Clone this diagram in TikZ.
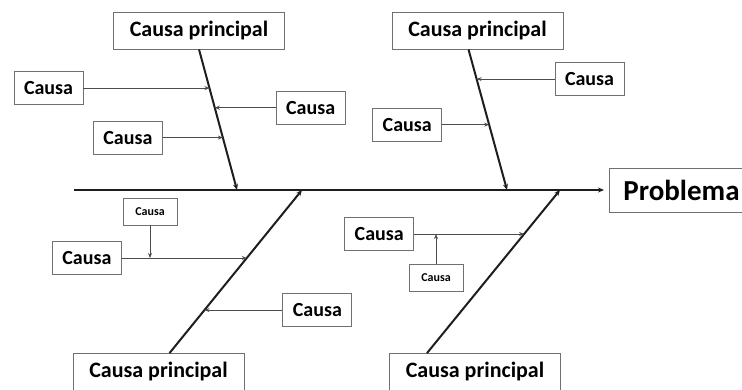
\documentclass[tikz,border=0pt]{standalone}
\usepackage{fontspec}
\setmainfont{Carlito}
\usetikzlibrary{positioning,arrows.meta,calc}
\definecolor{frame}{HTML}{707070}
\definecolor{ink}{HTML}{1E1E1E}
\tikzset{
  principal/.style={draw=frame, thick, minimum width=171pt, minimum height=37pt, inner sep=0pt, font=\fontsize{22}{25}\selectfont\bfseries},
  causa/.style   ={draw=frame, thick, minimum width=69pt, minimum height=33pt, inner sep=0pt, font=\fontsize{20}{23}\selectfont\bfseries},
  causita/.style ={draw=frame, thick, minimum width=54pt, minimum height=27pt, inner sep=0pt, font=\fontsize{12}{14}\selectfont\bfseries},
  problema/.style={draw=frame, thick, anchor=west, minimum height=44pt, inner xsep=14pt, font=\fontsize{29}{32}\selectfont\bfseries},
  spine/.style={-{Stealth[length=6pt,width=5pt]}, line width=2.6pt, ink},
  bone/.style ={-{Stealth[length=6pt,width=5pt]}, line width=2pt, ink},
  sub/.style  ={-{Stealth[length=5pt,width=4pt]}, line width=0.8pt, black!70},
}
\begin{document}
\begin{tikzpicture}[x=1pt, y=-1pt]
  \useasboundingbox (0,0) rectangle (742,390);
  \node[principal] (P1) at (199,30.5)  {Causa principal};
  \node[principal] (P2) at (477.5,30.5) {Causa principal};
  \node[principal] (P3) at (158.5,372) {Causa principal};
  \node[principal] (P4) at (475,372)   {Causa principal};
  \node[problema]  (Pr) at (609,190)   {Problema};
  \coordinate (cola) at (74,190);
  \coordinate (J1) at (237,190);
  \coordinate (J2) at (507,190);
  \coordinate (J3) at (302,190);
  \coordinate (J4) at (560,190);
  \coordinate (B1) at (P1.south);
  \coordinate (B2) at ($(P2.south)+(-9,0)$);
  \coordinate (B3) at ($(P3.north)+(11,0)$);
  \coordinate (B4) at ($(P4.north)+(-48,0)$);
  \coordinate (t11) at ($(B1)!0.275!(J1)$);
  \coordinate (t12) at ($(B1)!0.415!(J1)$);
  \coordinate (t13) at ($(B1)!0.627!(J1)$);
  \coordinate (t21) at ($(B2)!0.211!(J2)$);
  \coordinate (t22) at ($(B2)!0.535!(J2)$);
  \coordinate (t31) at ($(B3)!0.583!(J3)$);
  \coordinate (t32) at ($(B3)!0.264!(J3)$);
  \coordinate (t41) at ($(B4)!0.730!(J4)$);
  \node[causa, left=126pt of t11]  (c11) {Causa};
  \node[causa, right=61pt of t12]  (c12) {Causa};
  \node[causa, left=60pt of t13]   (c13) {Causa};
  \node[causa, right=78pt of t21]  (c21) {Causa};
  \node[causa, left=47pt of t22]   (c22) {Causa};
  \node[causa, left=125pt of t31]  (c31) {Causa};
  \node[causa, right=78pt of t32]  (c32) {Causa};
  \node[causa, left=110pt of t41]  (c41) {Causa};
  \node[causita] (s31) at (150,211.5) {Causa};
  \node[causita] (s41) at (436,277.5) {Causa};
  \coordinate (m31) at (s31 |- c31);
  \coordinate (m41) at (s41 |- c41);
  \draw[spine] (cola) -- ([xshift=-5pt]Pr.west);
  \draw[bone] (B1) -- (J1);
  \draw[bone] (B2) -- (J2);
  \draw[bone] (B3) -- (J3);
  \draw[bone] (B4) -- (J4);
  \draw[sub] (c11) -- (t11);
  \draw[sub] (c12) -- (t12);
  \draw[sub] (c13) -- (t13);
  \draw[sub] (c21) -- (t21);
  \draw[sub] (c22) -- (t22);
  \draw[sub] (c31) -- (t31);
  \draw[sub] (c32) -- (t32);
  \draw[sub] (c41) -- (t41);
  \draw[sub] (s31) -- (m31);
  \draw[sub] (s41) -- (m41);
\end{tikzpicture}
\end{document}
